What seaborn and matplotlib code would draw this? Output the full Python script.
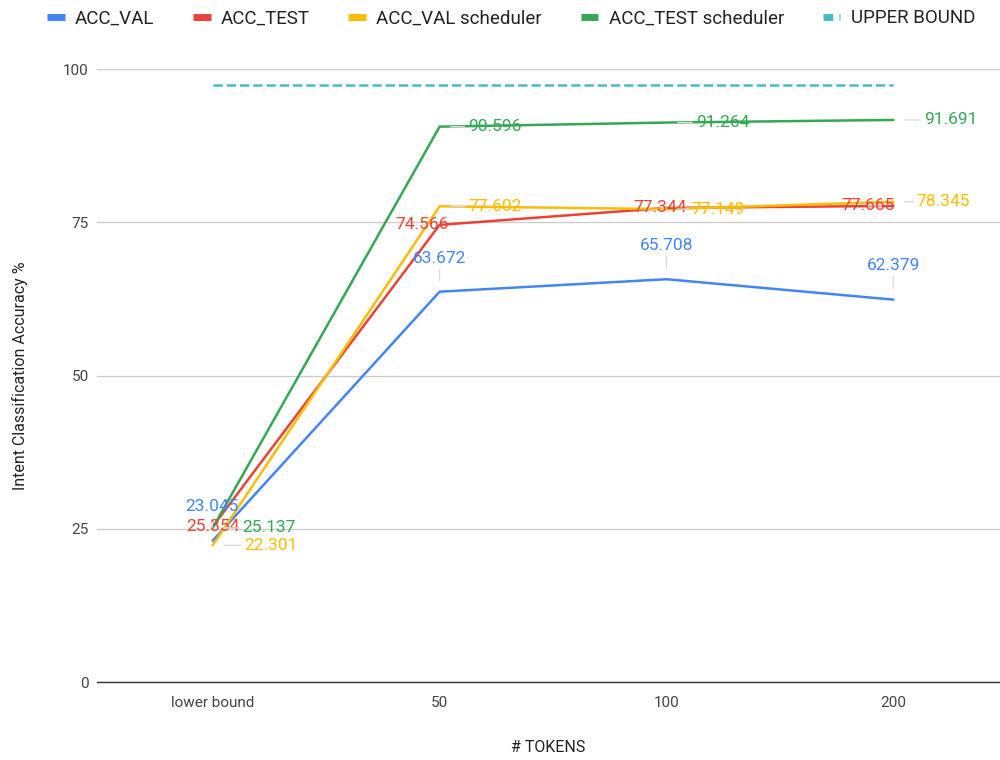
import numpy as np
import pandas as pd
import matplotlib
matplotlib.use("Agg")
import matplotlib.pyplot as plt
import seaborn as sns
from matplotlib.lines import Line2D

sns.set_theme(style="whitegrid")
plt.rcParams['font.family'] = ['Roboto', 'DejaVu Sans']

tokens = ['lower bound', '50', '100', '200']
acc_val = [23.045, 63.672, 65.708, 62.379]
acc_test = [25.354, 74.566, 77.344, 77.665]
acc_val_sched = [22.301, 77.602, 77.149, 78.345]
acc_test_sched = [25.137, 90.596, 91.264, 91.691]
upper_bound = [97.4, 97.4, 97.4, 97.4]

series = {
    'ACC_VAL': acc_val,
    'ACC_TEST': acc_test,
    'ACC_VAL scheduler': acc_val_sched,
    'ACC_TEST scheduler': acc_test_sched,
    'UPPER BOUND': upper_bound,
}
colors = {
    'ACC_VAL': '#4285F4',
    'ACC_TEST': '#EA4335',
    'ACC_VAL scheduler': '#FBBC04',
    'ACC_TEST scheduler': '#34A853',
    'UPPER BOUND': '#46BDC6',
}

df = pd.DataFrame([
    {'tokens': t, 'acc': v, 'series': name}
    for name, vals in series.items() for t, v in zip(tokens, vals)
])

# label offsets in pixels (dx, dy) per series, per point
offsets = {
    'ACC_VAL': [(-1, 34), (0, 33), (0, 34), (0, 34)],
    'ACC_TEST': [(0, 0), (-18, 0), (-6, 0), (-25, 0)],
    'ACC_VAL scheduler': [(58, 0), (55, 0), (52, 0), (50, 0)],
    'ACC_TEST scheduler': [(56, 0), (55, 0), (56, 0), (57, 0)],
}

fig = plt.figure(figsize=(10, 7.6), dpi=100)
ax = fig.add_axes([0.097, 0.1026, 0.903, 0.8066])

for name in series:
    sub = df[df['series'] == name]
    sns.lineplot(data=sub, x='tokens', y='acc', ax=ax, color=colors[name],
                 linewidth=1.8, sort=False,
                 linestyle='--' if name == 'UPPER BOUND' else '-',
                 dashes=(5, 3.5) if name == 'UPPER BOUND' else None)

for name, offs in offsets.items():
    for i, (v, (dx, dy)) in enumerate(zip(series[name], offs)):
        ax.annotate(f'{v:g}', xy=(i, v), xytext=(dx, dy),
                    textcoords='offset pixels', ha='center', va='center',
                    fontsize=12.5, color=colors[name],
                    arrowprops=dict(arrowstyle='-', color='#dddddd', lw=1,
                                    shrinkA=0, shrinkB=8) if (dx or dy) else None)

ax.set_xlim(-0.51, 3.47)
ax.set_ylim(0, 100)
ax.set_yticks([0, 25, 50, 75, 100])
ax.set_xlabel('# TOKENS', fontsize=11.5, color='#222222', labelpad=22)
ax.set_ylabel('Intent Classification Accuracy %', fontsize=11.5, color='#222222', labelpad=25)
ax.tick_params(axis='x', labelsize=11, colors='#444444', length=0, pad=10)
ax.tick_params(axis='y', labelsize=11, colors='#444444', length=0, pad=6)
ax.grid(axis='x', visible=False)
ax.grid(axis='y', color='#cccccc', linewidth=1)
for s in ['top', 'right', 'left']:
    ax.spines[s].set_visible(False)
ax.spines['bottom'].set_color('#333333')
ax.spines['bottom'].set_linewidth(1)

handles = []
for name in series:
    if name == 'UPPER BOUND':
        handles.append(Line2D([], [], color=colors[name], lw=5, linestyle=(0, (1.4, 0.9)),
                              solid_capstyle='butt', dash_capstyle='butt'))
    else:
        handles.append(Line2D([], [], color=colors[name], lw=5,
                              solid_capstyle='butt'))
fig.legend(handles, list(series.keys()), loc='center', bbox_to_anchor=(0.511, 0.976),
           ncol=5, frameon=False, fontsize=13.5, handlelength=0.95, columnspacing=2.05,
           handletextpad=0.55, labelcolor='#222222')

fig.savefig('out.png', dpi=100)
